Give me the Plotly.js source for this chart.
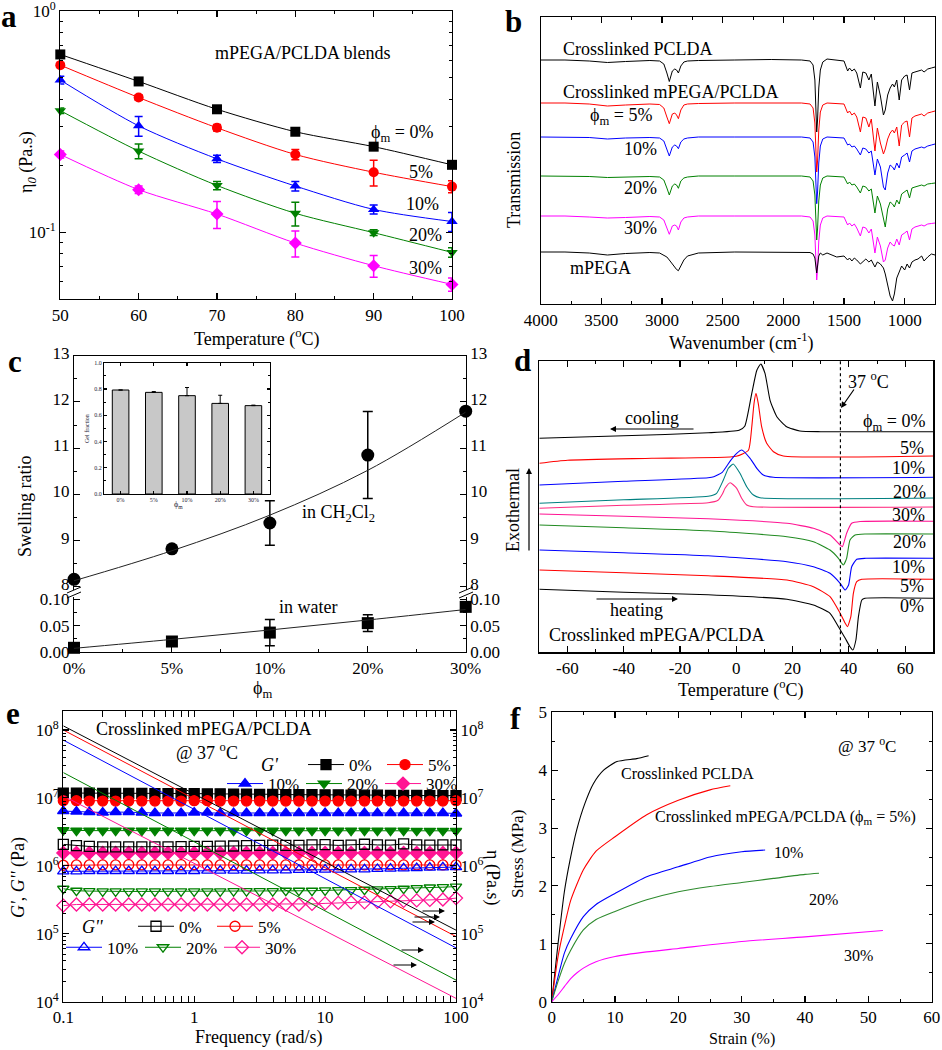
<!DOCTYPE html>
<html><head><meta charset="utf-8">
<script src="https://cdn.plot.ly/plotly-3.0.1.min.js"></script>
<style>html,body{margin:0;padding:0;background:#fff}#chart{width:942px;height:1050px}</style>
</head><body><div id="chart"></div>
<script>
// ================= DATA =================
// (a) zero-shear viscosity vs temperature
const tempA = [50,60,70,80,90,100];
const eta0_p0  = [0.637,0.481,0.360,0.285,0.244,0.202];
const eta0_p5  = [0.570,0.407,0.297,0.225,0.187,0.161];
const eta0_p10 = [0.488,0.303,0.215,0.162,0.127,0.112];
const eta0_p20 = [0.355,0.233,0.163,0.122,0.0997,0.0812];
const eta0_p30 = [0.225,0.156,0.121,0.0895,0.0707,0.0582];
const err_p0  = [0.01,0.008,0.006,0.005,0.005,0.005];
const err_p5  = [0.012,0.012,0.01,0.012,0.025,0.01];
const err_p10 = [0.02,0.031,0.008,0.008,0.006,0.011];
const err_p20 = [0.01,0.018,0.007,0.015,0.003,0.004];
const err_p30 = [0.008,0.006,0.017,0.012,0.008,0.004];

// (b) FTIR spectra (stacked, arbitrary transmission units)
const wavenumber = [4000,3800,3600,3450,3300,3100,3020,2985,2960,2940,2915,2895,2880,2865,2845,2820,2790,2700,2400,2100,1850,1780,1755,1740,1730,1725,1718,1708,1695,1675,1640,1560,1500,1470,1455,1435,1415,1395,1365,1345,1320,1295,1275,1245,1225,1200,1175,1160,1140,1120,1100,1085,1065,1045,1025,1000,980,960,940,915,890,860,840,810,780,750];
const irPCLDA = [244,244,243,241.5,242.5,243.5,243,240,231,222.5, 233,235,234,231,238,242,243,243.5,244,244.5, 244,243,239,224,189,172,184,216,234,242, 245,244,243,233,236,233,235,231,216,232, 231,224,230,198,222,208,189,194,209,216, 220,217,224,204,224,228,229,214,231,232, 233,234,232,235,236,237];
const irP5 = [201,201,200,198,199,200,199.5,196,187,180.3, 190,191,189,185.3,194,199,200,200.5,201,201, 201,200,196,181,149,132,143,174,192,199, 201,200,200,191,193,189,191,187,172,187, 186,177,185,153,176,161,150,155,165,171, 174,171,177,158,179,182,183,167,186,188, 189,190,188,191,192,193];
const irP10 = [167,167,166.5,165,166,166.5,166,163,155,148, 157,159,158,155.3,162,165,166,167,167,167, 167,166,162,147,117,100.3,112,141,158,165, 167,166,166,159,160,157,158,155,149,156, 155,151,153,129,145,137,117,114,131,139, 137,134,141,136,147,149,151,142,153,155, 156,157,156,158,159,160];
const irP20 = [128,128,127.5,126.5,127,127.5,127,124,116,109, 118,120,119,115.7,123,126,127,128,128,128, 128,127,123,109,80,64,75,103,119,126, 128,127,127,120,122,119,120,117,111,118, 117,113,115,91,108,100,83,77,95,102, 100,97,104,100,110,112,114,106,116,117, 118,119,118,120,120.5,121];
const irP30 = [88,88,87,86,86.5,87.5,87,84,76,69.7, 78,79,78,74,82,86,87,88,88,88, 88,87,83,69,40,24,35,63,79,86, 88,87,87,79,81,78,80,76,68,77, 76,71,75,51,67,58,42,44,56,62, 59,58,65,59,69,71,73,64,75,77, 78,79,78,80,80.5,81];
const irMPEGA = [52,52,51,49,50.5,51.5,51,49,47,44, 40,37,34.5,33.3,38,44,48,51,52,52, 52,51.5,50,46,36,31,38,48,51,49, 51,47,48,44,46,43,46,44,40,42, 45,42,44,37,42,40,36,30,18,8, 3,10,26,32,38,34,40,36,42,44, 45,48,43,47,50,49];

// (c) swelling ratio
const phiLabels = ['0%','5%','10%','20%','30%'];
const phiPos = [0,1,2,3,4];
const swellCH2Cl2 = [8.16,8.82,9.38,10.85,11.80];
const errCH2Cl2   = [0.03,0.05,0.48,0.94,0.03];
const fitCH2Cl2   = [8.13,8.78,9.55,10.52,11.78];
const swellWater  = [0.008,0.02,0.037,0.055,0.086];
const errWater    = [0.006,0.004,0.025,0.016,0.006];
const fitWater    = [0.007,0.024,0.042,0.061,0.081];
const gelFraction = [0.792,0.774,0.749,0.690,0.673];
const gelErr      = [0,0.006,0.062,0.062,0.004];

// (d) DSC traces (arbitrary heat-flow units, stacked)
const cool0T = [-70,-40,-10,1,3,5.5,7.3,8.7,10.2,12,14.4,17.9,22.6,30,70];
const cool0  = [214,216.5,219.5,222,226,259,282,288.3,279,252,235.6,225.6,221.3,220.6,220.6];
const cool5T = [-70,-60,-30,0,4.3,5.5,6.3,7,7.8,9,10.8,13.2,16.7,70];
const cool5  = [189,192,194,196,202,225.6,249,259,249,225.6,209,200.6,196.3,196.3];
const cool10T = [-70,-40,-10,-8,-5,-2,0.15,1.9,4.9,7.3,9.6,13.2,70];
const cool10  = [167.3,171,174.6,175.5,180,192,199,202.3,194,184,177.3,175,175];
const cool20T = [-70,-40,-10,-7,-4.6,-2.8,-1.1,1.3,3.7,6.1,8.4,70];
const cool20  = [149,152.5,156,159,172.3,184,188.3,179,165.6,157.3,154.6,154.3];
const cool30T = [-70,-40,-10,-6.5,-5,-4,-2.2,0.15,1.9,3.7,6.1,70];
const cool30  = [144,147,149.5,152,158,164,169.6,164,154,147.3,145.6,145.3];
const heat30T = [-70,-40,-10,18,27.4,33.3,36.9,37.7,39.2,41,44,70];
const heat30  = [138.3,136,133.5,129,124,117.3,107.3,105.6,119,129,130.8,131];
const heat20T = [-70,-40,-10,18,27.4,33.3,36.3,38,39.2,40.4,42.2,46,70];
const heat20  = [127.3,124.5,121.5,115.6,110.6,102.3,94,87.3,94,112.3,117.3,118.3,118.3];
const heat10T = [-70,-40,-10,18,27.4,33.3,36.9,38.7,39.9,41,42.8,46,70];
const heat10  = [102.3,99.5,96.5,90.6,85.6,79,69,62.3,67.3,85.6,93,94,94];
const heat5T = [-70,-40,-10,18,27.4,33.3,36.9,38.7,39.5,40.7,41.6,42.8,44.6,70];
const heat5  = [82.3,79.5,76.5,72.3,65.6,55.6,39,29,25.6,35.6,59,70.6,73,73];
const heat0T = [-70,-40,-10,18,27.4,33.3,36.3,38.7,40.4,41.4,42.5,43.4,44.6,45.7,70];
const heat0  = [63,60,57.5,53,47.3,39,25.6,14,5.6,2.3,12.3,35.6,52.3,54,54];
const meltLineT = [37];
const dscTicks = [-60,-40,-20,0,20,40,60];
const dscTickText = ['-60','-40','-20','0','20','40','60'];

// (e) rheology
const freq = [0.1,0.126,0.158,0.2,0.251,0.316,0.398,0.501,0.631,0.794,1,1.26,1.58,2,2.51,3.16,3.98,5.01,6.31,7.94,10,12.6,15.8,20,25.1,31.6,39.8,50.1,63.1,79.4,100];
const Gp0  = [1.18e7,1.18e7,1.18e7,1.17e7,1.17e7,1.17e7,1.17e7,1.16e7,1.16e7,1.16e7,1.16e7,1.15e7,1.15e7,1.14e7,1.14e7,1.13e7,1.13e7,1.12e7,1.12e7,1.12e7,1.11e7,1.11e7,1.10e7,1.10e7,1.10e7,1.09e7,1.09e7,1.09e7,1.08e7,1.08e7,1.08e7];
const Gp5  = [9.1e6,9.1e6,9.0e6,9.0e6,9.0e6,9.0e6,9.0e6,9.0e6,9.0e6,9.0e6,9.1e6,9.1e6,9.0e6,9.0e6,9.0e6,9.0e6,9.0e6,9.0e6,9.0e6,9.0e6,9.0e6,9.0e6,9.0e6,9.0e6,9.0e6,9.0e6,9.0e6,9.0e6,9.0e6,9.0e6,9.1e6];
const Gp10 = [6.4e6,6.3e6,6.2e6,6.1e6,6.2e6,6.2e6,6.1e6,6.0e6,6.0e6,6.0e6,6.1e6,6.1e6,6.0e6,6.0e6,6.0e6,6.0e6,6.0e6,6.0e6,6.0e6,6.0e6,6.0e6,6.0e6,6.0e6,6.0e6,6.0e6,6.0e6,6.0e6,6.0e6,6.0e6,6.0e6,5.9e6];
const Gp20 = [3.35e6,3.3e6,3.3e6,3.3e6,3.3e6,3.3e6,3.3e6,3.3e6,3.3e6,3.3e6,3.3e6,3.3e6,3.3e6,3.3e6,3.3e6,3.3e6,3.3e6,3.3e6,3.3e6,3.3e6,3.3e6,3.3e6,3.3e6,3.3e6,3.3e6,3.3e6,3.3e6,3.28e6,3.28e6,3.28e6,3.28e6];
const Gp30 = [1.55e6,1.55e6,1.55e6,1.55e6,1.55e6,1.55e6,1.55e6,1.55e6,1.55e6,1.55e6,1.55e6,1.55e6,1.55e6,1.55e6,1.55e6,1.55e6,1.55e6,1.55e6,1.55e6,1.55e6,1.55e6,1.55e6,1.55e6,1.55e6,1.55e6,1.55e6,1.55e6,1.55e6,1.55e6,1.55e6,1.55e6];
const Gpp0  = [2.07e6,1.98e6,1.93e6,1.9e6,1.9e6,1.9e6,1.9e6,1.9e6,1.9e6,1.92e6,1.93e6,1.93e6,1.95e6,1.96e6,1.98e6,2.0e6,2.02e6,2.0e6,2.0e6,2.03e6,2.05e6,2.0e6,2.02e6,2.08e6,2.03e6,2.02e6,2.1e6,2.03e6,2.02e6,2.03e6,2.03e6];
const Gpp5  = [1.02e6,1.03e6,1.03e6,1.03e6,1.03e6,1.04e6,1.03e6,1.03e6,1.03e6,1.04e6,1.04e6,1.03e6,1.03e6,1.03e6,1.03e6,1.03e6,1.03e6,1.03e6,1.03e6,1.03e6,1.03e6,1.03e6,1.03e6,1.03e6,1.03e6,1.03e6,1.03e6,1.03e6,1.03e6,1.03e6,1.03e6];
const Gpp10 = [8.3e5,8.3e5,8.4e5,8.4e5,8.4e5,8.4e5,8.4e5,8.4e5,8.4e5,8.4e5,8.4e5,8.5e5,8.5e5,8.5e5,8.5e5,8.6e5,8.6e5,8.6e5,8.7e5,8.7e5,8.8e5,8.8e5,8.9e5,8.9e5,9.0e5,9.1e5,9.2e5,9.3e5,9.4e5,9.5e5,9.6e5];
const Gpp20 = [4.6e5,4.3e5,4.25e5,4.2e5,4.2e5,4.2e5,4.2e5,4.2e5,4.2e5,4.2e5,4.2e5,4.2e5,4.2e5,4.25e5,4.25e5,4.25e5,4.25e5,4.3e5,4.3e5,4.3e5,4.35e5,4.4e5,4.4e5,4.45e5,4.5e5,4.55e5,4.6e5,4.7e5,4.8e5,4.85e5,4.95e5];
const Gpp30 = [2.6e5,2.7e5,2.7e5,2.7e5,2.7e5,2.7e5,2.7e5,2.7e5,2.7e5,2.7e5,2.7e5,2.7e5,2.7e5,2.7e5,2.7e5,2.7e5,2.7e5,2.7e5,2.7e5,2.75e5,2.8e5,2.85e5,2.9e5,2.9e5,2.95e5,3.0e5,3.05e5,3.1e5,3.15e5,3.2e5,3.35e5];
const etaFreq = [0.1,100];
const eta_p0  = [1.15e8,1.13e5];
const eta_p5  = [1.0e8,9.1e4];
const eta_p10 = [7.1e7,6.2e4];
const eta_p20 = [2.36e7,2.08e4];
const eta_p30 = [1.07e7,1.12e4];

// (f) stress-strain
const strainPCLDA = [0,0.5,1,2,2.9,3.95,5.26,6.6,8.2,10.3,13.4,15.3];
const stressPCLDA = [0,0.5,1.0,1.9,2.45,2.97,3.43,3.77,4.0,4.15,4.2,4.25];
const strainP5 = [0,1,2,3,5,7,10,15,20,25,28.2];
const stressP5 = [0,0.78,1.3,1.75,2.28,2.6,2.85,3.23,3.48,3.66,3.73];
const strainP10 = [0,1,2,3,5,7,10,15,20,25,30,33.7];
const stressP10 = [0,0.43,0.84,1.09,1.47,1.68,1.87,2.16,2.33,2.5,2.59,2.62];
const strainP20 = [0,1,2,3,5,7,10,15,20,25,30,35,40,42.2];
const stressP20 = [0,0.35,0.66,0.89,1.24,1.42,1.56,1.76,1.9,1.99,2.06,2.13,2.2,2.22];
const strainP30 = [0,1,2,3,4,5,7,10,15,20,30,40,52.3];
const stressP30 = [0,0.12,0.26,0.4,0.5,0.58,0.69,0.78,0.86,0.92,1.04,1.12,1.23];

// ================= LAYOUT HELPERS =================
const W = 942, H = 1050;
const F = 'Liberation Serif, serif';
const px = x => x / W, py = y => 1 - y / H;
const dx = (a, b) => [a / W, b / W];
const dy = (t, b) => [1 - b / H, 1 - t / H];
function ax(o) {
  return Object.assign({showline:true, linecolor:'#000', linewidth:1.2, ticks:'inside', ticklen:6, tickwidth:1.1,
    tickcolor:'#000', mirror:'allticks', zeroline:false, showgrid:false, fixedrange:true, ticklabeloverflow:'allow',
    tickfont:{family:F, size:17, color:'#000'}}, o);
}
function mn(o) { return Object.assign({ticks:'inside', ticklen:3, tickwidth:1, tickcolor:'#000', showgrid:false}, o); }
function logMinor(d0, d1) { const v=[]; for (let d=d0; d<d1; d++) for (let k=2;k<=9;k++) v.push(k*Math.pow(10,d)); return v; }
function fnt(s, c) { return {family:F, size:s, color:c || '#000'}; }
function T(text, x, y, o) {
  return Object.assign({text, x:px(x), y:py(y), xref:'paper', yref:'paper', showarrow:false, xanchor:'center', yanchor:'middle',
    font:fnt(17)}, o || {});
}
function A(hx, hy, tx, ty) {
  return {text:'', x:px(hx), y:py(hy), xref:'paper', yref:'paper', ax:tx-hx, ay:ty-hy, axref:'pixel', ayref:'pixel',
    showarrow:true, arrowhead:2, arrowsize:1, arrowwidth:1.2, arrowcolor:'#000'};
}
const C = {k:'#000000', r:'#ff0000', b:'#0000ff', g:'#008000', m:'#ff00ff', pk:'#ff1493', teal:'#008080', dp:'#ff2a7f'};

const traces = [];
// ---- (a)
[[eta0_p0,err_p0,C.k,'square'],[eta0_p5,err_p5,C.r,'circle'],[eta0_p10,err_p10,C.b,'triangle-up'],
 [eta0_p20,err_p20,C.g,'triangle-down'],[eta0_p30,err_p30,C.m,'diamond']].forEach(([y,e,c,s]) => {
  traces.push({x:tempA, y:y, xaxis:'x', yaxis:'y', mode:'lines+markers', showlegend:false, cliponaxis:false,
    line:{color:c, width:1, shape:'spline', smoothing:0.8}, marker:{symbol:s, size:10, color:c},
    error_y:{type:'data', array:e, visible:true, color:c, thickness:1.5, width:4}});
});
// ---- (b)
[[irPCLDA,C.k],[irP5,C.r],[irP10,C.b],[irP20,C.g],[irP30,C.m],[irMPEGA,C.k]].forEach(([y,c]) => {
  traces.push({x:wavenumber, y:y, xaxis:'x2', yaxis:'y2', mode:'lines', showlegend:false, line:{color:c, width:1}});
});
// ---- (c)
traces.push({x:phiPos, y:fitCH2Cl2, xaxis:'x3', yaxis:'y4', mode:'lines', showlegend:false, line:{color:'#222', width:1, shape:'spline'}});
traces.push({x:phiPos, y:swellCH2Cl2, xaxis:'x3', yaxis:'y3', mode:'markers', showlegend:false, cliponaxis:false,
  marker:{symbol:'circle', size:13, color:'#000'}, error_y:{type:'data', array:errCH2Cl2, visible:true, color:'#000', thickness:1.5, width:5}});
traces.push({x:phiPos, y:fitWater, xaxis:'x4', yaxis:'y6', mode:'lines', showlegend:false, line:{color:'#222', width:1, shape:'spline'}});
traces.push({x:phiPos, y:swellWater, xaxis:'x4', yaxis:'y5', mode:'markers', showlegend:false, cliponaxis:false,
  marker:{symbol:'square', size:12, color:'#000'}, error_y:{type:'data', array:errWater, visible:true, color:'#000', thickness:1.5, width:5}});
traces.push({x:phiPos, y:gelFraction, xaxis:'x5', yaxis:'y7', type:'bar', width:0.5, showlegend:false,
  marker:{color:'#c8c8c8', line:{color:'#000', width:1}},
  error_y:{type:'data', array:gelErr, arrayminus:[0,0,0,0,0], visible:true, color:'#000', thickness:1, width:2}});
// ---- (d)
[[cool0T,cool0,C.k],[cool5T,cool5,C.r],[cool10T,cool10,C.b],[cool20T,cool20,C.teal],[cool30T,cool30,C.dp],
 [heat30T,heat30,C.pk],[heat20T,heat20,'#228b22'],[heat10T,heat10,C.b],[heat5T,heat5,C.r],[heat0T,heat0,C.k]].forEach(([x,y,c]) => {
  traces.push({x:x, y:y, xaxis:'x6', yaxis:'y8', mode:'lines', showlegend:false, line:{color:c, width:1.1, shape:'spline', smoothing:0.5}});
});
// ---- (e)
const eSeries = [
  [Gp0,C.k,'square','0%','legend'],[Gp5,C.r,'circle','5%','legend'],
  [Gp10,C.b,'triangle-up','10%','legend2'],[Gp20,C.g,'triangle-down','20%','legend2'],[Gp30,C.pk,'diamond','30%','legend2'],
  [Gpp0,C.k,'square-open','0%','legend3'],[Gpp5,C.r,'circle-open','5%','legend3'],
  [Gpp10,C.b,'triangle-up-open','10%','legend4'],[Gpp20,C.g,'triangle-down-open','20%','legend4'],[Gpp30,C.pk,'diamond-open','30%','legend4']];
[[eta_p0,C.k],[eta_p5,C.r],[eta_p10,C.b],[eta_p20,C.g],[eta_p30,C.pk]].forEach(([y,c]) => {
  traces.push({x:etaFreq, y:y, xaxis:'x7', yaxis:'y10', mode:'lines', showlegend:false, line:{color:c, width:1}});
});
eSeries.forEach(([y,c,s,n,lg]) => {
  traces.push({x:freq, y:y, xaxis:'x7', yaxis:'y9', mode:'lines+markers', name:n, legend:lg, showlegend:true, cliponaxis:false,
    line:{color:c, width:1}, marker:{symbol:s, size:10, color:c, line:{color:c, width:1.3}}});
});
// ---- (f)
[[strainPCLDA,stressPCLDA,C.k],[strainP5,stressP5,C.r],[strainP10,stressP10,C.b],[strainP20,stressP20,'#2e8b2e'],[strainP30,stressP30,C.m]].forEach(([x,y,c]) => {
  traces.push({x:x, y:y, xaxis:'x8', yaxis:'y11', mode:'lines', showlegend:false, line:{color:c, width:1.1, shape:'spline', smoothing:0.6}});
});

const legBase = {orientation:'h', xanchor:'left', yanchor:'middle', bgcolor:'rgba(0,0,0,0)', borderwidth:0,
  font:fnt(17), itemwidth:36, entrywidthmode:'pixels', entrywidth:28, tracegroupgap:0,
  itemclick:false, itemdoubleclick:false};

const layout = {
  width:W, height:H, margin:{l:0,r:0,t:0,b:0}, paper_bgcolor:'#fff', plot_bgcolor:'rgba(0,0,0,0)',
  showlegend:true, font:fnt(17),
  legend:  Object.assign({}, legBase, {x:px(303), y:py(765)}),
  legend2: Object.assign({}, legBase, {x:px(222), y:py(784)}),
  legend3: Object.assign({}, legBase, {x:px(133), y:py(926.7)}),
  legend4: Object.assign({}, legBase, {x:px(61), y:py(947.7)}),
  // (a)
  xaxis: ax({domain:dx(60.3,452), anchor:'y', range:[50,100], tick0:50, dtick:10, minor:mn({dtick:5})}),
  yaxis: ax({domain:dy(11,299), anchor:'x', type:'log', range:[Math.log10(0.05),0.0005], tickvals:[0.1,1],
    ticktext:['10<sup>-1</sup>','10<sup>0</sup>'], minor:mn({tickvals:[0.05,0.06,0.07,0.08,0.09,0.2,0.3,0.4,0.5,0.6,0.7,0.8,0.9]})}),
  // (b)
  xaxis2: ax({domain:dx(540.7,935), anchor:'y2', range:[4000,750], tick0:0, dtick:500, minor:mn({dtick:250})}),
  yaxis2: ax({domain:dy(16.7,304), anchor:'x2', range:[0,287.3], ticks:'', showticklabels:false, mirror:true}),
  // (c)
  xaxis3: {domain:dx(74,465.7), anchor:'y3', range:[0,4], side:'top', showline:true, linecolor:'#000', linewidth:1.2,
    ticks:'', showticklabels:false, showgrid:false, zeroline:false, fixedrange:true},
  yaxis3: ax({domain:dy(355.7,590), anchor:'x3', range:[7.93,13], tick0:8, dtick:1, mirror:false, ticklabelshift:-3, minor:mn({tick0:8, dtick:0.5})}),
  yaxis4: ax({overlaying:'y3', side:'right', anchor:'x3', range:[7.93,13], tick0:8, dtick:1, mirror:false, ticklabelshift:-3, minor:mn({tick0:8, dtick:0.5})}),
  xaxis4: ax({domain:dx(74,465.7), anchor:'y5', range:[0,4], tickvals:phiPos, ticktext:phiLabels, mirror:false,
    minor:mn({tickvals:[0.5,1.5,2.5,3.5]})}),
  yaxis5: ax({domain:dy(597,652), anchor:'x4', range:[0,0.1048], tickvals:[0,0.05,0.1], ticktext:['0.00','0.05','0.10'],
    mirror:false, minor:mn({tickvals:[0.025,0.075]})}),
  yaxis6: ax({overlaying:'y5', side:'right', anchor:'x4', range:[0,0.1048], tickvals:[0,0.05,0.1], ticktext:['0.00','0.05','0.10'],
    mirror:false, minor:mn({tickvals:[0.025,0.075]})}),
  xaxis5: ax({domain:dx(104,270), anchor:'y7', range:[-0.5,4.5], tickvals:phiPos, ticktext:phiLabels, ticklen:3, linewidth:1,
    tickfont:fnt(6,'#223')}),
  yaxis7: ax({domain:dy(362.7,494), anchor:'x5', range:[0,1], dtick:0.2, tickformat:'.1f', ticklen:3, linewidth:1,
    tickfont:fnt(6,'#223'), minor:mn({dtick:0.1, ticklen:2})}),
  // (d)
  xaxis6: ax({domain:dx(539.3,933.3), anchor:'y8', range:[-70,70], tickvals:dscTicks, ticktext:dscTickText, minor:mn({dtick:10, tick0:0})}),
  yaxis8: ax({domain:dy(361,652.3), anchor:'x6', range:[0,291.3], ticks:'', showticklabels:false, mirror:true}),
  // (e)
  xaxis7: ax({domain:dx(63.3,456), anchor:'y9', type:'log', range:[-1,2], tickvals:[0.1,1,10,100], ticktext:['0.1','1','10','100'],
    minor:mn({tickvals:logMinor(-1,2)})}),
  yaxis9: ax({domain:dy(710.7,1001.7), anchor:'x7', type:'log', range:[4,8.284], tickvals:[1e4,1e5,1e6,1e7,1e8],
    ticktext:['10<sup>4</sup>','10<sup>5</sup>','10<sup>6</sup>','10<sup>7</sup>','10<sup>8</sup>'], mirror:false, minor:mn({tickvals:logMinor(4,9)})}),
  yaxis10: ax({overlaying:'y9', side:'right', anchor:'x7', type:'log', range:[4,8.284], tickvals:[1e4,1e5,1e6,1e7,1e8],
    ticktext:['10<sup>4</sup>','10<sup>5</sup>','10<sup>6</sup>','10<sup>7</sup>','10<sup>8</sup>'], mirror:false, minor:mn({tickvals:logMinor(4,9)})}),
  // (f)
  xaxis8: ax({domain:dx(551.7,931.7), anchor:'y11', range:[0,60], dtick:10, minor:mn({dtick:5})}),
  yaxis11: ax({domain:dy(712.3,1001.7), anchor:'x8', range:[0,5], dtick:1, minor:mn({dtick:0.5})}),
  shapes: [
    {type:'line', xref:'x6', yref:'y8 domain', x0:meltLineT[0], x1:meltLineT[0], y0:0, y1:1, line:{color:'#000', width:1.2, dash:'dot'}},
    {type:'line', xref:'paper', yref:'paper', x0:px(67), y0:py(593), x1:px(81), y1:py(587), line:{color:'#000', width:1}},
    {type:'line', xref:'paper', yref:'paper', x0:px(67), y0:py(598), x1:px(81), y1:py(592), line:{color:'#000', width:1}},
    {type:'line', xref:'paper', yref:'paper', x0:px(459), y0:py(593), x1:px(473), y1:py(587), line:{color:'#000', width:1}},
    {type:'line', xref:'paper', yref:'paper', x0:px(459), y0:py(598), x1:px(473), y1:py(592), line:{color:'#000', width:1}}
  ],
  annotations: [
    // panel letters
    T('<b>a</b>', 9, 16, {font:fnt(31)}),
    T('<b>b</b>', 513, 21, {font:fnt(31)}),
    T('<b>c</b>', 15, 361, {font:fnt(31)}),
    T('<b>d</b>', 522, 360, {font:fnt(31)}),
    T('<b>e</b>', 13, 713, {font:fnt(31)}),
    T('<b>f</b>', 515, 718, {font:fnt(31)}),
    // (a)
    T('Temperature (<sup>o</sup>C)', 256, 338, {font:fnt(18)}),
    T('η<sub><i>0</i></sub> (Pa.s)', 28, 162, {textangle:-90, font:fnt(18)}),
    T('mPEGA/PCLDA blends', 303, 53, {font:fnt(18)}),
    T('ϕ<sub>m</sub> = 0%', 402, 133, {font:fnt(18)}),
    T('5%', 421, 172, {font:fnt(18)}),
    T('10%', 422, 204, {font:fnt(18)}),
    T('20%', 425, 235, {font:fnt(18)}),
    T('30%', 425, 268, {font:fnt(18)}),
    // (b)
    T('Wavenumber (cm<sup>-1</sup>)', 741, 342, {font:fnt(18)}),
    T('Transmission', 514, 180, {textangle:-90, font:fnt(18)}),
    T('Crosslinked PCLDA', 561, 49, {xanchor:'left', font:fnt(18)}),
    T('Crosslinked mPEGA/PCLDA', 561, 92, {xanchor:'left', font:fnt(18)}),
    T('ϕ<sub>m</sub> = 5%', 588, 116, {xanchor:'left', font:fnt(18)}),
    T('10%', 622, 149, {xanchor:'left', font:fnt(18)}),
    T('20%', 622, 188, {xanchor:'left', font:fnt(18)}),
    T('30%', 622, 228, {xanchor:'left', font:fnt(18)}),
    T('mPEGA', 568, 268, {xanchor:'left', font:fnt(18)}),
    // (c)
    T('Swelling ratio', 25, 506, {textangle:-90, font:fnt(18)}),
    T('ϕ<sub>m</sub>', 262, 689, {font:fnt(18)}),
    T('in CH<sub>2</sub>Cl<sub>2</sub>', 338, 513, {font:fnt(18)}),
    T('in water', 308, 607, {font:fnt(18)}),
    T('Gel fraction', 87, 429, {textangle:-90, font:fnt(6,'#223')}),
    T('ϕ<sub>m</sub>', 178, 505, {font:fnt(8,'#223')}),
    // (d)
    T('Temperature (<sup>o</sup>C)', 740, 689, {font:fnt(18)}),
    T('Exothermal', 513, 510, {textangle:-90, font:fnt(18)}),
    T('37 <sup>o</sup>C', 868, 380, {font:fnt(18)}),
    T('cooling', 652, 418, {font:fnt(18)}),
    T('heating', 636, 610, {font:fnt(18)}),
    T('Crosslinked mPEGA/PCLDA', 547, 635, {xanchor:'left', font:fnt(18)}),
    T('ϕ<sub>m</sub> = 0%', 927, 422, {xanchor:'right', font:fnt(18)}),
    T('5%', 926, 448, {xanchor:'right', font:fnt(18)}),
    T('10%', 927, 468, {xanchor:'right', font:fnt(18)}),
    T('20%', 928, 492, {xanchor:'right', font:fnt(18)}),
    T('30%', 927, 515, {xanchor:'right', font:fnt(18)}),
    T('20%', 928, 542, {xanchor:'right', font:fnt(18)}),
    T('10%', 927, 567, {xanchor:'right', font:fnt(18)}),
    T('5%', 926, 586, {xanchor:'right', font:fnt(18)}),
    T('0%', 926, 606, {xanchor:'right', font:fnt(18)}),
    A(610, 429, 695, 429),
    A(678, 599, 595, 599),
    A(529, 468, 529, 552),
    A(841, 408, 855, 388),
    // (e)
    T('Frequency (rad/s)', 258, 1037, {font:fnt(18)}),
    T("<i>G'</i>, <i>G''</i> (Pa)", 18, 878, {textangle:-90, font:fnt(18)}),
    T('η (Pa.s)', 493, 877, {textangle:90, font:fnt(18)}),
    T('Crosslinked mPEGA/PCLDA', 204, 729, {font:fnt(18)}),
    T('@ 37 <sup>o</sup>C', 207, 751, {font:fnt(18)}),
    T("<i>G'</i>", 270, 765, {font:fnt(18)}),
    T("<i>G''</i>", 93, 927, {font:fnt(18)}),
    A(445, 911, 421, 911),
    A(440, 917, 413, 917),
    A(435, 922, 411, 922),
    A(424, 950, 400, 950),
    A(417, 965, 392, 965),
    // (f)
    T('Strain (%)', 742, 1050, {yanchor:'bottom', font:fnt(16)}),
    T('Stress (MPa)', 517, 854, {textangle:-90, font:fnt(17)}),
    T('@ 37 <sup>o</sup>C', 867, 745, {font:fnt(17)}),
    T('Crosslinked PCLDA', 687, 773, {font:fnt(16)}),
    T('Crosslinked mPEGA/PCLDA (ϕ<sub>m</sub> = 5%)', 785, 817, {font:fnt(16)}),
    T('10%', 788, 852, {font:fnt(16)}),
    T('20%', 823, 899, {font:fnt(16)}),
    T('30%', 858, 955, {font:fnt(16)})
  ]
};

Plotly.newPlot('chart', traces, layout, {staticPlot:true, displayModeBar:false});
</script></body></html>
